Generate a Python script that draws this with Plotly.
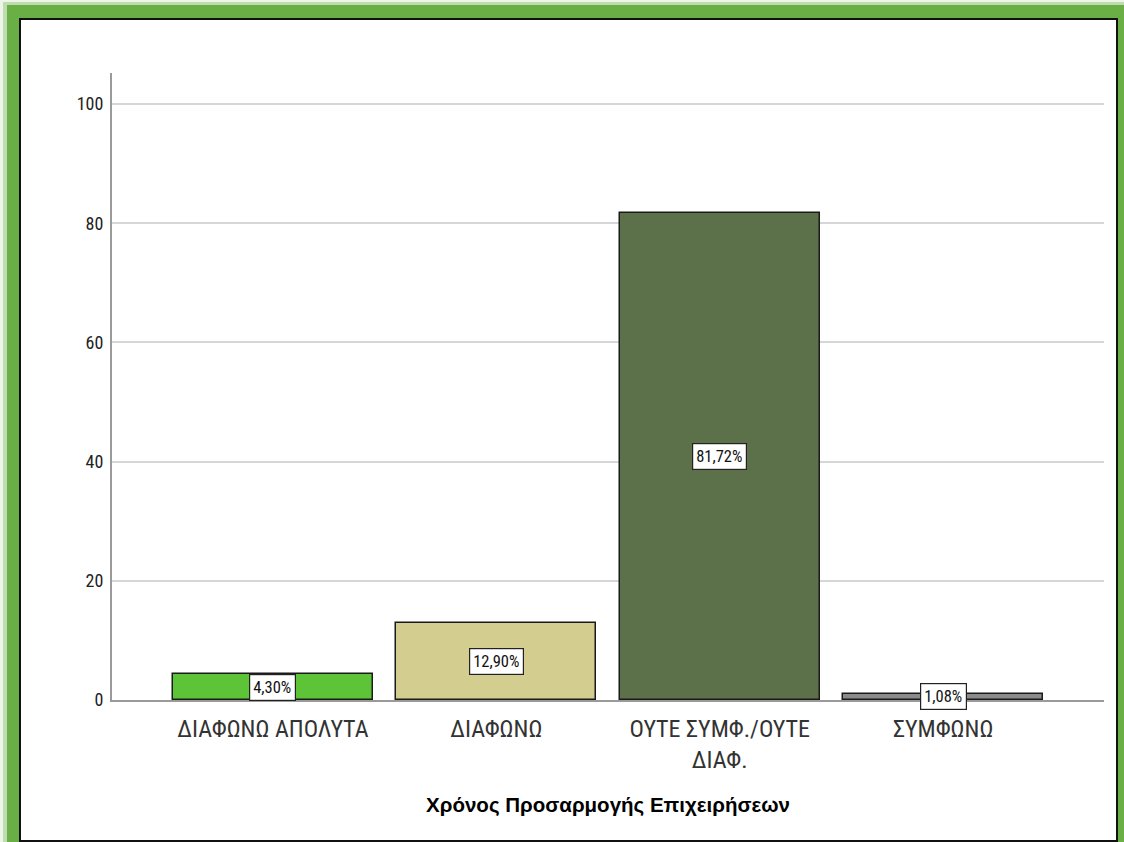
import plotly.graph_objects as go

categories = ["ΔΙΑΦΩΝΩ ΑΠΟΛΥΤΑ", "ΔΙΑΦΩΝΩ", "ΟΥΤΕ ΣΥΜΦ./ΟΥΤΕ<br>ΔΙΑΦ.", "ΣΥΜΦΩΝΩ"]
values = [4.30, 12.90, 81.72, 1.08]
value_labels = ["4,30%", "12,90%", "81,72%", "1,08%"]
bar_colors = ["#5ec437", "#d3cd90", "#5c7049", "#8a8a8a"]
y_ticks = [0, 20, 40, 60, 80, 100]
axis_title = "Χρόνος Προσαρμογής Επιχειρήσεων"

W, H = 1124, 842
# plot area in window pixels
L, R, T, B = 112, 1104, 73, 700

def px(x):
    return (x - L) / (R - L)

def py(y):
    return (B - y) / (B - T)

NARROW = "Liberation Sans Narrow, Arial Narrow, Roboto Condensed, sans-serif"

fig = go.Figure()
fig.add_trace(go.Bar(
    x=list(range(len(categories))),
    y=values,
    width=0.895,
    marker=dict(color=bar_colors, line=dict(color="#1a1a1a", width=1.5)),
    showlegend=False,
    hoverinfo="skip",
))

for i, (v, lab) in enumerate(zip(values, value_labels)):
    fig.add_annotation(
        x=i, y=v / 2, text=lab, showarrow=False,
        font=dict(family=NARROW, size=16.5, color="#111111"),
        bgcolor="white", bordercolor="#222222", borderwidth=1.2, borderpad=3,
    )

shapes = []
shapes.append(dict(type="rect", xref="paper", yref="paper", layer="below",
                   x0=px(0), x1=px(W), y0=py(H), y1=py(0),
                   fillcolor="rgba(106,175,70,0.12)", line=dict(width=0)))
shapes.append(dict(type="rect", xref="paper", yref="paper", layer="below",
                   x0=px(3), x1=px(W), y0=py(H), y1=py(2),
                   fillcolor="rgba(106,175,70,0.35)", line=dict(width=0)))
shapes.append(dict(type="rect", xref="paper", yref="paper", layer="below",
                   x0=px(7), x1=px(W), y0=py(H), y1=py(5),
                   fillcolor="#6aae46", line=dict(width=0)))
shapes.append(dict(type="rect", xref="paper", yref="paper", layer="below",
                   x0=px(20), x1=px(1117), y0=py(841), y1=py(19),
                   fillcolor="white", line=dict(color="#111111", width=2)))
fig.update_layout(shapes=shapes)

fig.update_layout(
    width=W, height=H,
    margin=dict(l=L, r=W - R, t=T, b=H - B, pad=0),
    paper_bgcolor="white",
    plot_bgcolor="rgba(0,0,0,0)",
    bargap=0,
    xaxis=dict(
        tickmode="array", tickvals=list(range(len(categories))), ticktext=categories,
        range=[-0.72, 3.72], showgrid=False, zeroline=False,
        showline=True, linecolor="#9a9a9a", linewidth=1.5,
        ticks="", ticklabelstandoff=6,
        tickfont=dict(family=NARROW, size=24, color="#333333"),
        title=dict(text=axis_title, standoff=25,
                   font=dict(family="Liberation Sans, Arial, sans-serif", size=20.5, color="#000000", weight="bold")),
    ),
    yaxis=dict(
        range=[0, 105.2], tickvals=y_ticks,
        showgrid=True, gridcolor="#d6d6d6", gridwidth=2,
        zeroline=False, showline=True, linecolor="#9a9a9a", linewidth=2,
        ticks="", ticklabelstandoff=3,
        tickfont=dict(family=NARROW, size=18, color="#222222"),
    ),
)

fig.write_html(
    "out.html",
    config={"displayModeBar": False},
    post_script="document.body.style.margin='0';document.body.style.overflow='hidden';",
)
